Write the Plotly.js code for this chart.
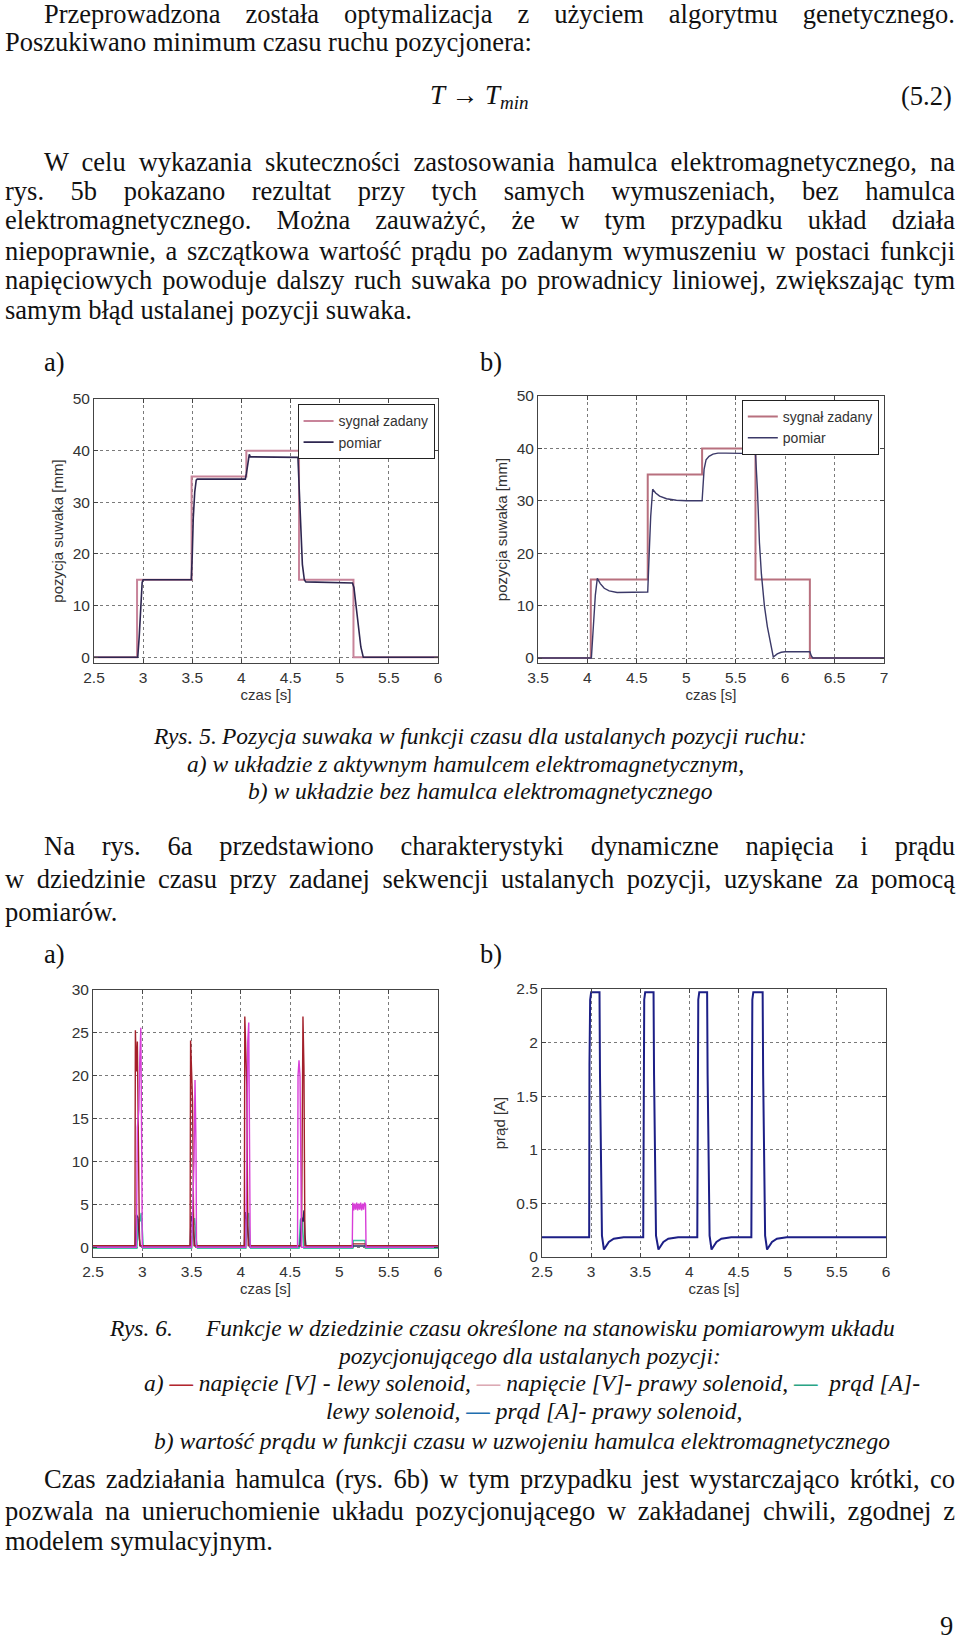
<!DOCTYPE html>
<html><head><meta charset="utf-8">
<script src="https://cdn.plot.ly/plotly-3.0.1.min.js"></script>
<style>
body{margin:0;background:#fff;}
#page{position:relative;width:960px;height:1644px;overflow:hidden;background:#fff;font-family:"Liberation Serif","Times New Roman",serif;color:#111;}
.ln{position:absolute;white-space:pre;line-height:1;}
.chart{position:absolute;}
</style></head><body><div id="page">
<div id="c5a" class="chart" style="left:0px;top:380px;width:460px;height:340px"></div>
<div id="c5b" class="chart" style="left:470px;top:380px;width:470px;height:340px"></div>
<div id="c6a" class="chart" style="left:0px;top:970px;width:460px;height:330px"></div>
<div id="c6b" class="chart" style="left:470px;top:970px;width:470px;height:330px"></div>
</div>
<script>
// ---------- chart data ----------
// Rys. 5a (with brake)
const t5a_zad = [2.5, 2.938, 2.938, 3.493, 3.493, 4.05, 4.05, 4.586, 4.586, 5.14, 5.14, 6.0];
const y5a_zad = [0, 0, 15, 15, 35, 35, 40, 40, 15, 15, 0, 0];
const t5a_pom = [2.5, 2.945, 2.96, 2.975, 2.99, 3.0, 3.49, 3.5, 3.51, 3.525, 3.54, 3.55, 4.04, 4.05, 4.065, 4.08, 4.09, 4.575, 4.585, 4.6, 4.62, 4.64, 4.655, 5.13, 5.145, 5.16, 5.19, 5.215, 5.24, 6.0];
const y5a_pom = [0, 0, 4, 10, 14.5, 15, 15, 20, 27, 32, 34.3, 34.5, 34.5, 35.5, 38, 39.3, 38.8, 38.7, 34, 26, 18, 15, 14.6, 14.4, 13.5, 11, 6, 2, 0, 0];
// Rys. 5b (without brake)
const t5b_zad = [3.5, 4.034, 4.034, 4.61, 4.61, 5.16, 5.16, 5.70, 5.70, 6.25, 6.25, 7.0];
const y5b_zad = [0, 0, 15, 15, 35, 35, 40, 40, 15, 15, 0, 0];
const t5b_pom = [3.5, 4.04, 4.06, 4.08, 4.10, 4.13, 4.17, 4.22, 4.3, 4.4, 4.61, 4.625, 4.64, 4.66, 4.69, 4.73, 4.8, 4.9, 5.0, 5.16, 5.17, 5.18, 5.2, 5.23, 5.27, 5.32, 5.4, 5.70, 5.72, 5.74, 5.76, 5.79, 5.82, 5.85, 5.88, 5.92, 5.96, 6.0, 6.25, 6.265, 6.28, 7.0];
const y5b_pom = [0, 0, 6, 12, 15.2, 14.2, 13.3, 12.8, 12.5, 12.5, 12.6, 20, 27, 32.2, 31.5, 30.9, 30.4, 30.1, 30.0, 30.0, 33, 36, 37.8, 38.5, 38.9, 39.1, 39.1, 39.0, 32, 22, 16, 10, 6, 2.8, 0.2, 0.8, 1.1, 1.2, 1.2, 0.4, 0, 0];
// Rys. 6a (voltages and currents of solenoids)
const t6_nl = [2.5, 2.925, 2.93, 2.94, 2.95, 2.96, 2.97, 2.975, 3.485, 3.49, 3.5, 3.51, 3.52, 3.525, 4.035, 4.04, 4.05, 4.06, 4.07, 4.075, 4.615, 4.625, 4.63, 4.64, 4.645, 4.65, 5.13, 5.135, 5.265, 5.27, 6.0];
const v6_nl = [0.2, 0.2, 25.3, 20.5, 24, 8, 2, 0.2, 0.2, 24.1, 21, 17, 4, 0.2, 0.2, 26.9, 23, 19, 3, 0.2, 0.2, 15, 26.9, 21, 6, 0.2, 0.2, 0.4, 0.4, 0.2, 0.2];
const t6_np = [2.5, 2.94, 2.95, 2.965, 2.975, 2.985, 2.995, 3.0, 3.5, 3.515, 3.525, 3.535, 3.545, 3.55, 4.05, 4.06, 4.07, 4.08, 4.09, 4.095, 4.575, 4.58, 4.59, 4.6, 4.61, 4.615, 5.13, 5.135, 5.145, 5.155, 5.165, 5.175, 5.185, 5.195, 5.205, 5.215, 5.225, 5.235, 5.245, 5.255, 5.265, 5.27, 6.0];
const v6_np = [0, 0, 14, 16, 22, 25.6, 10, 0, 0, 5, 10, 19.5, 12, 0, 0, 10, 24, 26.2, 12, 0, 0, 20, 21.8, 20, 8, 0, 0, 5.2, 4.3, 5.1, 4.4, 5.2, 4.3, 5.1, 4.4, 5.2, 4.3, 5.1, 4.4, 5.2, 5.0, 0, 0];
const t6_pl = [2.5, 2.945, 2.96, 2.975, 2.99, 3.0, 3.01, 3.5, 3.515, 3.53, 3.545, 3.56, 4.05, 4.065, 4.08, 4.09, 4.1, 4.59, 4.605, 4.62, 4.63, 4.64, 5.135, 5.14, 5.26, 5.265, 6.0];
const v6_pl = [-0.1, -0.1, 3.3, 3.0, 4.0, 1.0, -0.1, -0.1, 2.5, 3.4, 1.0, -0.1, -0.1, 3.5, 4.0, 1.0, -0.1, -0.1, 3.2, 3.5, 2.0, -0.1, -0.1, 0.8, 0.8, -0.1, -0.1];
const t6_pp = [2.5, 2.93, 2.94, 2.955, 2.97, 2.98, 3.485, 3.495, 3.51, 3.525, 3.535, 4.035, 4.045, 4.06, 4.075, 4.085, 4.6, 4.615, 4.63, 4.64, 4.65, 4.66, 6.0];
const v6_pp = [0.15, 0.15, 3.8, 3.5, 1.0, 0.15, 0.15, 3.7, 3.0, 1.0, 0.15, 0.15, 4.1, 3.2, 1.0, 0.15, 0.15, 3.4, 3.0, 4.3, 1.5, 0.15, 0.15];
// Rys. 6b (brake coil current)
const t6b = [2.5, 2.98, 2.983, 2.99, 3.0, 3.085, 3.09, 3.1, 3.11, 3.13, 3.15, 3.18, 3.23, 3.33,
             3.53, 3.533, 3.54, 3.55, 3.635, 3.64, 3.65, 3.66, 3.685, 3.705, 3.735, 3.785, 3.885,
             4.08, 4.083, 4.09, 4.1, 4.18, 4.185, 4.195, 4.205, 4.225, 4.245, 4.275, 4.325, 4.425,
             4.63, 4.633, 4.64, 4.65, 4.745, 4.75, 4.76, 4.77, 4.79, 4.81, 4.84, 4.89, 4.99, 6.0];
const i6b = [0.185, 0.185, 1.8, 2.4, 2.47, 2.47, 1.7, 0.5, 0.2, 0.07, 0.1, 0.14, 0.17, 0.185,
             0.185, 1.8, 2.4, 2.47, 2.47, 1.7, 0.5, 0.2, 0.07, 0.1, 0.14, 0.17, 0.185,
             0.185, 1.8, 2.4, 2.47, 2.47, 1.7, 0.5, 0.2, 0.07, 0.1, 0.14, 0.17, 0.185,
             0.185, 1.8, 2.4, 2.47, 2.47, 1.7, 0.5, 0.2, 0.07, 0.1, 0.14, 0.17, 0.185, 0.185];
const legendNames = ['sygnał zadany', 'pomiar'];
const xTitle = 'czas [s]';
const yTitle5 = 'pozycja suwaka [mm]';
const yTitle6b = 'prąd [A]';

// ---------- chart styling ----------
const FONT = "'Liberation Sans Narrow','Liberation Sans',Arial,sans-serif";
const TFONT = {family: FONT, size: 15, color: '#333'};
function ax(range, dtick, extra) {
  return Object.assign({
    range: range, dtick: dtick, tick0: 0, autorange: false,
    showgrid: true, gridcolor: '#7a7a7a', griddash: 'dot', gridwidth: 1,
    zeroline: false, showline: true, linecolor: '#444', linewidth: 1, mirror: 'ticks',
    ticks: 'inside', ticklen: 4, tickcolor: '#444',
    tickfont: {family: FONT, size: 15.5, color: '#333'}
  }, extra || {});
}
function baseLayout(m) {
  return {margin: m, paper_bgcolor: 'rgba(0,0,0,0)', plot_bgcolor: '#fff', showlegend: false,
          font: {family: FONT, color: '#333'}};
}
const cfg = {staticPlot: true, displayModeBar: false};
const legendStyle = (x, y) => ({x: x, y: y, xanchor: 'right', yanchor: 'top', bgcolor: '#fff',
  bordercolor: '#222', borderwidth: 1, font: {family: FONT, size: 14, color: '#333'}, tracegroupgap: 0});

// Rys 5a
Plotly.newPlot('c5a', [
  {x: t5a_zad, y: y5a_zad, mode: 'lines', name: legendNames[0], line: {color: '#c8849a', width: 2}},
  {x: t5a_pom, y: y5a_pom, mode: 'lines', name: legendNames[1], line: {color: '#2e2650', width: 1.6}}
], Object.assign(baseLayout({l: 94, r: 22, t: 19, b: 57}), {
  showlegend: true, legend: legendStyle(0.99, 0.98),
  xaxis: ax([2.5, 6], 0.5, {title: {text: xTitle, font: TFONT, standoff: 1}}),
  yaxis: ax([-1.1, 50], 10, {title: {text: yTitle5, font: TFONT, standoff: 5}})
}), cfg);

// Rys 5b
Plotly.newPlot('c5b', [
  {x: t5b_zad, y: y5b_zad, mode: 'lines', name: legendNames[0], line: {color: '#b8707e', width: 2}},
  {x: t5b_pom, y: y5b_pom, mode: 'lines', name: legendNames[1], line: {color: '#3b3968', width: 1.4}}
], Object.assign(baseLayout({l: 68, r: 56, t: 16, b: 57}), {
  showlegend: true, legend: legendStyle(0.985, 0.985),
  xaxis: ax([3.5, 7], 0.5, {title: {text: xTitle, font: TFONT, standoff: 1}}),
  yaxis: ax([-0.95, 50], 10, {title: {text: yTitle5, font: TFONT, standoff: 5}})
}), cfg);

// Rys 6a
Plotly.newPlot('c6a', [
  {x: t6_pl, y: v6_pl, mode: 'lines', line: {color: '#3cc4a0', width: 1.6}},
  {x: t6_pp, y: v6_pp, mode: 'lines', line: {color: '#22285e', width: 1.4}},
  {x: t6_nl, y: v6_nl, mode: 'lines', line: {color: '#a3202a', width: 1.4}},
  {x: t6_np, y: v6_np, mode: 'lines', line: {color: '#d83ed8', width: 1.4}}
], Object.assign(baseLayout({l: 93, r: 22, t: 20, b: 43}), {
  xaxis: ax([2.5, 6], 0.5, {title: {text: xTitle, font: TFONT, standoff: 1}}),
  yaxis: ax([-1.13, 30], 5)
}), cfg);

// Rys 6b
Plotly.newPlot('c6b', [
  {x: t6b, y: i6b, mode: 'lines', line: {color: '#1c1f86', width: 2}}
], Object.assign(baseLayout({l: 72, r: 54, t: 19, b: 43}), {
  xaxis: ax([2.5, 6], 0.5, {title: {text: xTitle, font: TFONT, standoff: 1}}),
  yaxis: ax([0, 2.5], 0.5, {title: {text: yTitle6b, font: TFONT, standoff: 7}})
}), cfg);

// ---------- page text ----------
const BODY = 26.5, CAP = 23.5;
const dash = c => '<span style="color:' + c + ';font-style:normal;font-weight:bold">—</span>';
const lines = [
  // [content, x, centerY, size, italic, justifyTo, html]
  ['Przeprowadzona została optymalizacja z użyciem algorytmu genetycznego.', 44, 16, BODY, 0, 955],
  ['Poszukiwano minimum czasu ruchu pozycjonera:', 5, 43.5, BODY, 0, 0],
  ['W celu wykazania skuteczności zastosowania hamulca elektromagnetycznego, na', 44, 163.5, BODY, 0, 955],
  ['rys. 5b pokazano rezultat przy tych samych wymuszeniach, bez hamulca', 5, 193, BODY, 0, 955],
  ['elektromagnetycznego. Można zauważyć, że w tym przypadku układ działa', 5, 222, BODY, 0, 955],
  ['niepoprawnie, a szczątkowa wartość prądu po zadanym wymuszeniu w postaci funkcji', 5, 252.5, BODY, 0, 955],
  ['napięciowych powoduje dalszy ruch suwaka po prowadnicy liniowej, zwiększając tym', 5, 282, BODY, 0, 955],
  ['samym błąd ustalanej pozycji suwaka.', 5, 312, BODY, 0, 0],
  ['a)', 44, 364, BODY, 0, 0],
  ['b)', 480, 364, BODY, 0, 0],
  ['Rys. 5.', 154, 738, CAP, 1, 0],
  ['Pozycja suwaka w funkcji czasu dla ustalanych pozycji ruchu:', 222, 738, CAP, 1, 0],
  ['a) w układzie z aktywnym hamulcem elektromagnetycznym,', 187, 766, CAP, 1, 0],
  ['b) w układzie bez hamulca elektromagnetycznego', 248, 793, CAP, 1, 0],
  ['Na rys. 6a przedstawiono charakterystyki dynamiczne napięcia i prądu', 44, 848, BODY, 0, 955],
  ['w dziedzinie czasu przy zadanej sekwencji ustalanych pozycji, uzyskane za pomocą', 5, 881, BODY, 0, 955],
  ['pomiarów.', 5, 914, BODY, 0, 0],
  ['a)', 44, 956, BODY, 0, 0],
  ['b)', 480, 956, BODY, 0, 0],
  ['Rys. 6.', 110, 1330, CAP, 1, 0],
  ['Funkcje w dziedzinie czasu określone na stanowisku pomiarowym układu', 206, 1330, CAP, 1, 0],
  ['pozycjonującego dla ustalanych pozycji:', 339, 1358, CAP, 1, 0],
  ['a) ' + dash('#b3262e') + ' napięcie [V] - lewy solenoid, ' + dash('#dcaab4') + ' napięcie [V]- prawy solenoid, ' + dash('#2aa585') + '  prąd [A]-', 144, 1385, CAP, 1, 0, 1],
  ['lewy solenoid, ' + dash('#1f6fb0') + ' prąd [A]- prawy solenoid,', 326, 1413, CAP, 1, 0, 1],
  ['b) wartość prądu w funkcji czasu w uzwojeniu hamulca elektromagnetycznego', 154, 1443, CAP, 1, 0],
  ['Czas zadziałania hamulca (rys. 6b) w tym przypadku jest wystarczająco krótki, co', 44, 1481, BODY, 0, 955],
  ['pozwala na unieruchomienie układu pozycjonującego w zakładanej chwili, zgodnej z', 5, 1513, BODY, 0, 955],
  ['modelem symulacyjnym.', 5, 1543, BODY, 0, 0],
  ['9', 940, 1628, BODY, 0, 0]
];
const page = document.getElementById('page');
// with line-height 1 the visual centre of a line sits about 0.557 em below its top
const OFF = 0.557;
lines.forEach(L => {
  const d = document.createElement('span');
  d.className = 'ln';
  if (L[6]) d.innerHTML = L[0]; else d.textContent = L[0];
  d.style.left = L[1] + 'px';
  d.style.top = Math.max(1, L[2] - OFF * L[3]) + 'px';
  d.style.fontSize = L[3] + 'px';
  if (L[4]) d.style.fontStyle = 'italic';
  page.appendChild(d);
  if (L[5]) {
    const target = L[5] - L[1];
    const nat = d.getBoundingClientRect().width;
    const n = (L[0].match(/ /g) || []).length;
    if (n > 0) d.style.wordSpacing = ((target - nat) / n) + 'px';
  }
});
// equation
const eq = document.createElement('span');
eq.className = 'ln';
eq.style.left = '430px'; eq.style.top = (97.5 - OFF * 27) + 'px'; eq.style.fontSize = '27px';
eq.style.fontStyle = 'italic';
eq.innerHTML = 'T <span style="font-style:normal">→</span> T<sub style="font-size:19px;vertical-align:-5px">min</sub>';
page.appendChild(eq);
const eqn = document.createElement('span');
eqn.className = 'ln';
eqn.style.left = '901px'; eqn.style.top = (97.5 - OFF * BODY) + 'px'; eqn.style.fontSize = BODY + 'px';
eqn.textContent = '(5.2)';
page.appendChild(eqn);
</script>
</body></html>
